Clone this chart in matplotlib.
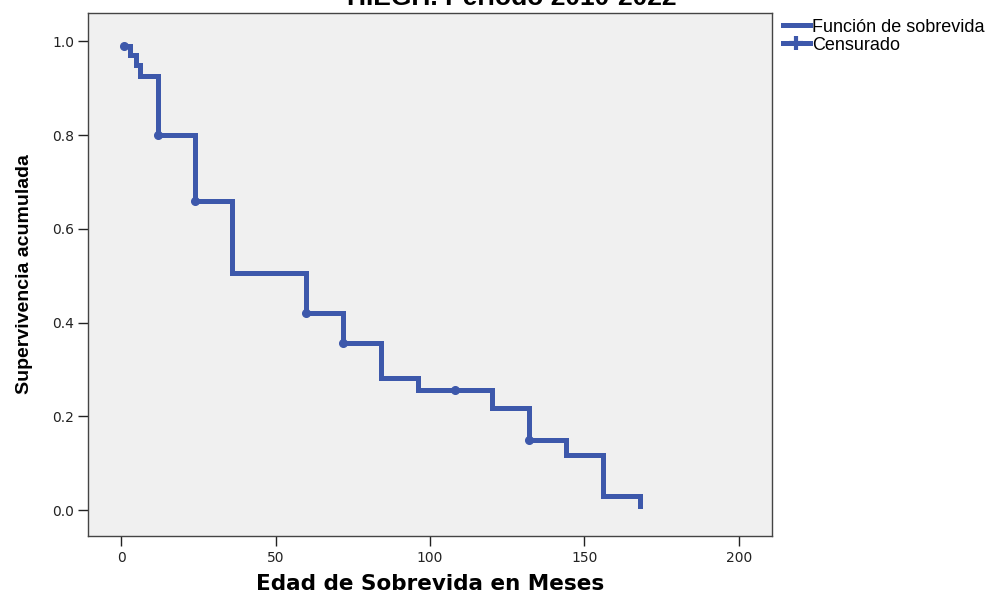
import matplotlib.pyplot as plt
from matplotlib.lines import Line2D

plt.rcParams['font.family'] = ['Liberation Sans', 'DejaVu Sans']

# --- Kaplan-Meier step data (months, cumulative survival) ---
meses = [0, 1, 3, 5, 6, 12, 24, 36, 60, 72, 84, 96, 120, 132, 144, 156, 168]
supervivencia = [1.0, 0.99, 0.97, 0.95, 0.925, 0.80, 0.66, 0.505, 0.42, 0.356,
                 0.281, 0.256, 0.217, 0.149, 0.117, 0.031, 0.008]

# --- Censored observations ---
cens_meses = [1, 12, 24, 60, 72, 108, 132]
cens_surv = [0.99, 0.80, 0.66, 0.42, 0.356, 0.256, 0.149]

azul = "#3d58ab"

fig = plt.figure(figsize=(9.92, 5.94), dpi=100)
ax = fig.add_axes([0.0887, 0.0976, 0.6895, 0.8804])
ax.set_facecolor("#f0f0f0")

# step curve, last drop drawn down to final value
ax.step(meses[1:], supervivencia[1:], where="post", color=azul, lw=3.6,
        solid_joinstyle="miter")
ax.plot([meses[-2], meses[-1]], [supervivencia[-2], supervivencia[-2]],
        color=azul, lw=3.6)
ax.plot([meses[-1], meses[-1]], [supervivencia[-2], supervivencia[-1]],
        color=azul, lw=3.6, solid_capstyle="butt")
ax.plot(cens_meses, cens_surv, "o", color=azul, ms=5.5, mec=azul)

ax.set_xlim(-10.7, 210.7)
ax.set_ylim(-0.055, 1.06)
ax.set_xticks([0, 50, 100, 150, 200])
ax.set_yticks([0.0, 0.2, 0.4, 0.6, 0.8, 1.0])
ax.set_yticklabels(["0.0", "0.2", "0.4", "0.6", "0.8", "1.0"])
ax.tick_params(direction="out", length=7, width=1, labelsize=10, colors="#222222",
               pad=3)
ax.tick_params(axis="x", pad=4)
for lab in ax.get_xticklabels() + ax.get_yticklabels():
    lab.set_family("DejaVu Sans")
for s in ax.spines.values():
    s.set_color("#444444")
    s.set_linewidth(1)

ax.set_xlabel("Edad de Sobrevida en Meses", fontsize=15.5, fontweight="bold",
              family="DejaVu Sans", labelpad=6)
ax.set_ylabel("Supervivencia acumulada", fontsize=14, fontweight="bold", labelpad=14)

fig.text(0.516, 0.992, "HIEGH. Periodo 2010-2022", ha="center", va="baseline",
         fontsize=19, fontweight="bold")

handles = [
    Line2D([], [], color=azul, lw=3.6),
    Line2D([], [], color=azul, lw=3.6, marker="+", ms=10, mew=3),
]
ax.legend(handles, ["Función de sobrevida", "Censurado"], loc="upper left",
          bbox_to_anchor=(1.0, 1.01), frameon=False, fontsize=13,
          handlelength=1.5, handletextpad=0.1, borderaxespad=0.2, labelspacing=0.05)

fig.savefig("out.png", dpi=100)
